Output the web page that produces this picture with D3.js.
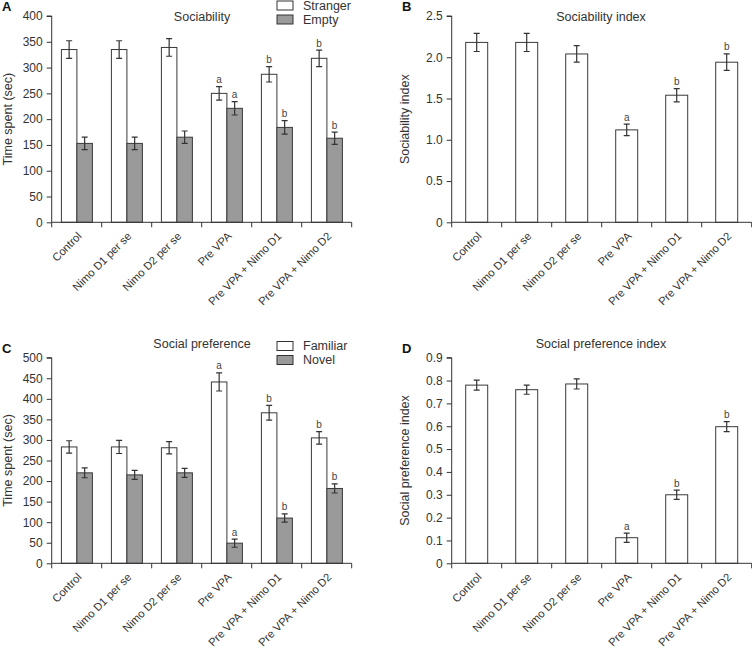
<!DOCTYPE html>
<html><head><meta charset="utf-8">
<script src="https://cdn.jsdelivr.net/npm/d3@7"></script>
<style>
body{margin:0;background:#fff;}
svg{display:block;font-family:"Liberation Sans",Arial,Helvetica,sans-serif;}
</style></head>
<body><svg id="chart" width="752" height="655"></svg>
<script>
const categories = ["Control","Nimo D1 per se","Nimo D2 per se","Pre VPA","Pre VPA + Nimo D1","Pre VPA + Nimo D2"];

// Panel A: Sociability
const strangerValues = [335,335,339,250,287,318];
const strangerErrors = [17,17,17,13,15,16];
const strangerSig = ["","","","a","b","b"];
const emptyValues = [153,153,165,221,184,163];
const emptyErrors = [12,12,12,13,13,12];
const emptySig = ["","","","a","b","b"];
const ticksA = [0,50,100,150,200,250,300,350,400];

// Panel B: Sociability index
const sociabilityIndex = [2.18,2.18,2.04,1.12,1.54,1.94];
const sociabilityIndexErr = [0.11,0.11,0.10,0.07,0.08,0.10];
const sociabilityIndexSig = ["","","","a","b","b"];
const ticksB = [0,0.5,1.0,1.5,2.0,2.5];

// Panel C: Social preference
const familiarValues = [283,283,281,441,366,305];
const familiarErrors = [15,16,15,22,18,15];
const familiarSig = ["","","","a","b","b"];
const novelValues = [220,215,220,49,110,182];
const novelErrors = [12,11,11,10,10,11];
const novelSig = ["","","","a","b","b"];
const ticksC = [0,50,100,150,200,250,300,350,400,450,500];

// Panel D: Social preference index
const prefIndex = [0.78,0.76,0.785,0.112,0.30,0.598];
const prefIndexErr = [0.022,0.02,0.022,0.02,0.02,0.022];
const prefIndexSig = ["","","","a","b","b"];
const ticksD = [0,0.1,0.2,0.3,0.4,0.5,0.6,0.7,0.8,0.9];

const svg = d3.select("#chart");
const TXT = "#333";
const GRAY = "#9a9a9a";

function panel(cfg){
  const g = svg.append("g");
  const x = d3.scaleBand().domain(categories).range([cfg.left, cfg.left+300]).padding(0);
  const y = d3.scaleLinear().domain([0, cfg.max]).range([cfg.bottom, cfg.top]);
  const fmt = cfg.fmt;
  // y axis
  const ya = g.append("g").attr("transform",`translate(${cfg.left},0)`)
    .call(d3.axisLeft(y).tickValues(cfg.ticks).tickSize(5).tickPadding(4).tickFormat(fmt));
  ya.selectAll("path,line").attr("stroke","#333");
  ya.select(".domain").attr("d",`M-5,${y(cfg.max)}H0V${y(0)}`);
  ya.selectAll("text").attr("fill",TXT).style("font-size","12px").style("font-family","Liberation Sans, Arial, sans-serif");

  // bars
  const series = cfg.series;
  const inner = d3.scaleBand().domain(series.map((s,i)=>i)).range(series.length>1?[9.7,40.7]:[14,36]).padding(0);
  series.forEach((s,si)=>{
    const bw = inner.bandwidth();
    categories.forEach((c,ci)=>{
      const bx = x(c)+inner(si);
      const v = s.values[ci], e = s.errors[ci];
      g.append("rect").attr("x",bx).attr("y",y(v)).attr("width",bw).attr("height",y(0)-y(v))
        .attr("fill",s.fill).attr("stroke","#3a3a3a").attr("stroke-width",1);
      const cx = bx+bw/2;
      const top = y(v+e), bot = y(v-e);
      g.append("path").attr("d",`M${cx},${top}V${bot}M${cx-3},${top}H${cx+3}M${cx-3},${bot}H${cx+3}`)
        .attr("stroke","#333").attr("stroke-width",1.2).attr("fill","none");
      if(s.sig[ci]){
        g.append("text").attr("x",cx).attr("y",top-3.5).attr("text-anchor","middle")
          .attr("fill","#444").style("font-size","10px").text(s.sig[ci]);
      }
    });
  });

  // x axis
  const xa = g.append("g").attr("transform",`translate(0,${cfg.bottom})`);
  xa.append("path").attr("d",`M${cfg.left},0H${cfg.left+300}`).attr("stroke","#333");
  const bounds = categories.map(c=>x(c)).concat([cfg.left+300]);
  bounds.forEach(b=>xa.append("line").attr("x1",b).attr("x2",b).attr("y1",0).attr("y2",5).attr("stroke","#333"));
  categories.forEach(c=>{
    const cx = x(c)+x.bandwidth()/2+5.5;
    xa.append("text").attr("transform",`translate(${cx},14.5) rotate(-45)`)
      .attr("text-anchor","end").attr("fill",TXT).style("font-size","11.2px").text(c);
  });

  // title
  g.append("text").attr("x",cfg.titleX).attr("y",cfg.titleY).attr("text-anchor","middle")
    .attr("fill",TXT).style("font-size","12.5px").text(cfg.title);
  // panel letter
  g.append("text").attr("x",cfg.letterX).attr("y",cfg.letterY).attr("fill","#111")
    .style("font-size","13px").style("font-weight","bold").text(cfg.letter);
  // y label
  g.append("text").attr("transform",`translate(${cfg.ylabX},${(cfg.top+cfg.bottom)/2}) rotate(-90)`)
    .attr("text-anchor","middle").attr("dy","0.35em").attr("fill",TXT).style("font-size","12.5px").text(cfg.ylabel);
  // legend
  if(cfg.legend){
    cfg.legend.forEach((L,i)=>{
      const ly = cfg.legendY + i*14;
      g.append("rect").attr("x",277).attr("y",ly-4.5).attr("width",16).attr("height",9)
        .attr("fill",L.fill).attr("stroke","#333");
      g.append("text").attr("x",303).attr("y",ly).attr("dy","0.35em").attr("fill",TXT)
        .style("font-size","12.5px").text(L.name);
    });
  }
}

const fmtInt = d=>d3.format("d")(d);
const fmtDec = d=> d===0 ? "0" : d3.format(".1f")(d);

panel({left:51.7, top:16, bottom:222.3, max:400, ticks:ticksA, fmt:fmtInt,
  series:[{values:strangerValues,errors:strangerErrors,sig:strangerSig,fill:"#fff"},
          {values:emptyValues,errors:emptyErrors,sig:emptySig,fill:GRAY}],
  title:"Sociability", titleX:202, titleY:21, letter:"A", letterX:2, letterY:11,
  ylabel:"Time spent (sec)", ylabX:8,
  legend:[{name:"Stranger",fill:"#fff"},{name:"Empty",fill:GRAY}], legendY:5.5});

panel({left:451.7, top:16, bottom:222.3, max:2.5, ticks:ticksB, fmt:fmtDec,
  series:[{values:sociabilityIndex,errors:sociabilityIndexErr,sig:sociabilityIndexSig,fill:"#fff"}],
  title:"Sociability index", titleX:601, titleY:21, letter:"B", letterX:402, letterY:11,
  ylabel:"Sociability index", ylabX:405});

panel({left:51.7, top:357.7, bottom:563.3, max:500, ticks:ticksC, fmt:fmtInt,
  series:[{values:familiarValues,errors:familiarErrors,sig:familiarSig,fill:"#fff"},
          {values:novelValues,errors:novelErrors,sig:novelSig,fill:GRAY}],
  title:"Social preference", titleX:202, titleY:348, letter:"C", letterX:2, letterY:353,
  ylabel:"Time spent (sec)", ylabX:8,
  legend:[{name:"Familiar",fill:"#fff"},{name:"Novel",fill:GRAY}], legendY:346});

panel({left:451.7, top:357.7, bottom:563.3, max:0.9, ticks:ticksD, fmt:fmtDec,
  series:[{values:prefIndex,errors:prefIndexErr,sig:prefIndexSig,fill:"#fff"}],
  title:"Social preference index", titleX:601, titleY:348, letter:"D", letterX:402, letterY:353,
  ylabel:"Social preference index", ylabX:405});
</script></body></html>
